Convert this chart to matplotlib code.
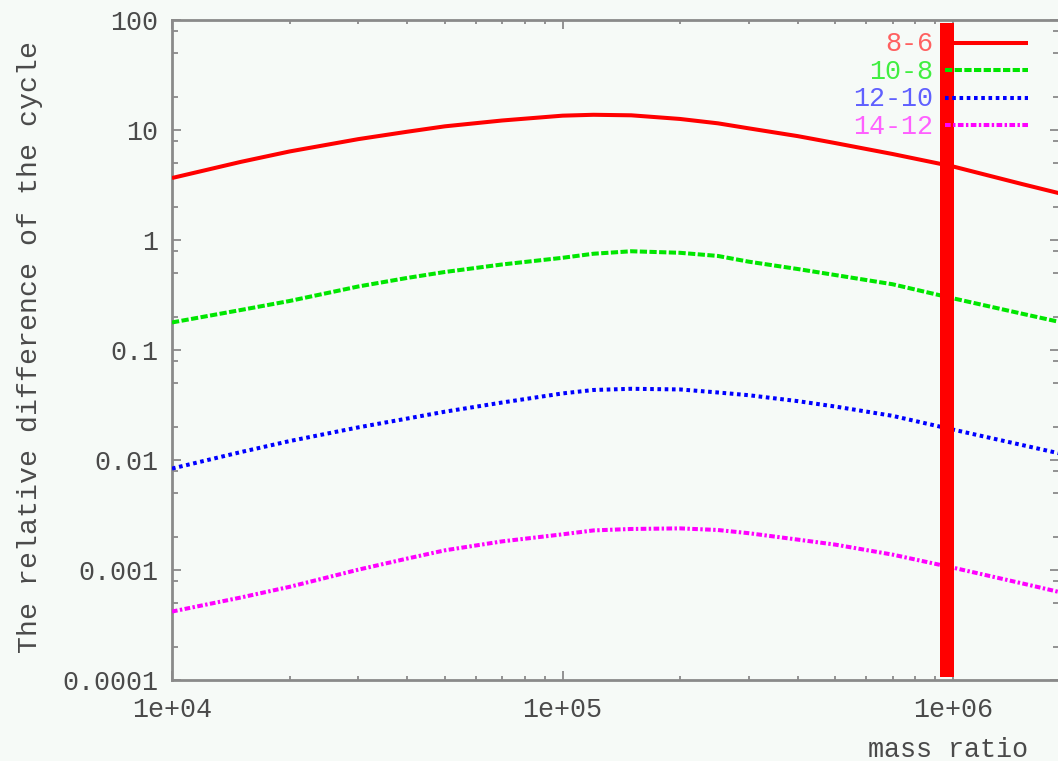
import numpy as np
import matplotlib
matplotlib.use("Agg")
import matplotlib.pyplot as plt
from matplotlib.ticker import LogLocator, NullFormatter, FixedLocator, FixedFormatter
from matplotlib.lines import Line2D
import matplotlib.transforms as mtransforms

# ---- data ----
mass_ratio = [1e4, 1.5e4, 2e4, 3e4, 4e4, 5e4, 7e4, 1e5, 1.2e5, 1.5e5, 2e5, 2.5e5, 3e5, 4e5,
              5e5, 7e5, 1e6, 1.5e6, 2e6]
diff_8_6   = [3.66, 5.13, 6.38, 8.26, 9.64, 10.8, 12.2, 13.5, 13.75, 13.6, 12.6, 11.5, 10.35,
              8.8, 7.6, 6.05, 4.66, 3.23, 2.51]
diff_10_8  = [0.178, 0.231, 0.279, 0.378, 0.452, 0.512, 0.599, 0.689, 0.75, 0.79, 0.765, 0.716,
              0.635, 0.545, 0.48, 0.396, 0.295, 0.214, 0.171]
diff_12_10 = [0.00836, 0.0118, 0.01486, 0.0198, 0.0238, 0.0275, 0.0333, 0.0403, 0.0433, 0.0444,
              0.0438, 0.0411, 0.0388, 0.0343, 0.0306, 0.0252, 0.0189, 0.0137, 0.0109]
diff_14_12 = [4.19e-4, 5.62e-4, 7.03e-4, 1.007e-3, 1.27e-3, 1.51e-3, 1.82e-3, 2.11e-3, 2.29e-3,
              2.36e-3, 2.39e-3, 2.31e-3, 2.16e-3, 1.89e-3, 1.70e-3, 1.38e-3, 1.05e-3, 7.57e-4,
              5.97e-4]
labels = ["8-6", "10-8", "12-10", "14-12"]
threshold = 1e6
x_min, x_max = 1e4, 1.868e6
y_min, y_max = 1e-4, 100
x_ticks = [1e4, 1e5, 1e6]
x_tick_labels = ["1e+04", "1e+05", "1e+06"]
y_ticks = [1e-4, 1e-3, 1e-2, 1e-1, 1, 10, 100]
y_tick_labels = ["0.0001", "0.001", "0.01", "0.1", "1", "10", "100"]

W, H = 1058, 761
bg = "#f6faf7"
axis_col = "#8a8a8a"
text_col = "#4a4a4a"
font = "Liberation Mono"
fs = 19.3

fig = plt.figure(figsize=(W / 100, H / 100), dpi=100, facecolor=bg)
left, right, top, bottom = 172, 1059, 20, 680
ax = fig.add_axes([left / W, 1 - bottom / H, (right - left) / W, (bottom - top) / H])
ax.set_facecolor(bg)
ax.set_xscale("log")
ax.set_yscale("log")
ax.set_xlim(x_min, x_max)
ax.set_ylim(y_min, y_max)

line_colors = ["#ff0000", "#00e600", "#0000ff", "#ff00ff"]
text_colors = ["#ff6060", "#40ee40", "#6060ff", "#ff60ff"]
styles = ["-", (0, (1.8, 0.6)), (0, (0.9, 0.9)), (0, (1.4, 0.6, 0.6, 0.6))]
series = [diff_8_6, diff_10_8, diff_12_10, diff_14_12]
lw = 2.9
for vals, c, ls in zip(series, line_colors, styles):
    ax.plot(mass_ratio, vals, color=c, lw=lw, linestyle=ls, solid_capstyle="butt",
            dash_capstyle="butt", zorder=3, solid_joinstyle="round")

# vertical marker at threshold
off = mtransforms.ScaledTranslation(-6.5 / 100, 0, fig.dpi_scale_trans)
vl = ax.axvline(threshold, ymin=0.005, ymax=0.995, color="#ff0000", lw=14 * 72 / 100,
                zorder=6, solid_capstyle="butt")
vl.set_transform(vl.get_transform() + off)

# ticks
ax.xaxis.set_major_locator(FixedLocator(x_ticks))
ax.xaxis.set_major_formatter(FixedFormatter(x_tick_labels))
ax.xaxis.set_minor_locator(LogLocator(base=10, subs=np.arange(2, 10)))
ax.xaxis.set_minor_formatter(NullFormatter())
ax.yaxis.set_major_locator(FixedLocator(y_ticks))
ax.yaxis.set_major_formatter(FixedFormatter(y_tick_labels))
ax.yaxis.set_minor_locator(LogLocator(base=10, subs=[2, 5, 8]))
ax.yaxis.set_minor_formatter(NullFormatter())

ax.tick_params(which="both", direction="in", top=True, right=True, color=axis_col, width=1.3)
ax.tick_params(which="major", length=6.5, labelsize=fs, labelcolor=text_col)
ax.tick_params(axis="x", which="minor", length=2.8)
ax.tick_params(axis="y", which="minor", length=4.5)
for lab in ax.get_xticklabels() + ax.get_yticklabels():
    lab.set_fontfamily(font)
ax.tick_params(axis="x", which="major", pad=12)
ax.tick_params(axis="y", which="major", pad=10)

for s in ax.spines.values():
    s.set_color(axis_col)
    s.set_linewidth(2)

# labels
fig.text(30 / W, 1 - 347 / H, "The relative difference of the cycle", rotation=90,
         ha="center", va="center", fontsize=20.3, family=font, color=text_col)
fig.text(948 / W, 1 - 750 / H, "mass ratio", ha="center", va="center",
         fontsize=fs, family=font, color=text_col)

# legend (manual, gnuplot style)
row0, drow = 44, 27.6
for i, (lab, c, tc, ls) in enumerate(zip(labels, line_colors, text_colors, styles)):
    yy = 1 - (row0 + i * drow) / H
    fig.text(933 / W, yy, lab, ha="right", va="center", fontsize=fs, family=font, color=tc)
    fig.add_artist(Line2D([945 / W, 1028 / W], [yy + 1.5 / H, yy + 1.5 / H], color=c, lw=lw,
                          linestyle=ls, transform=fig.transFigure, zorder=4,
                          solid_capstyle="butt", dash_capstyle="butt"))

fig.savefig("out.png", dpi=100, facecolor=bg)
